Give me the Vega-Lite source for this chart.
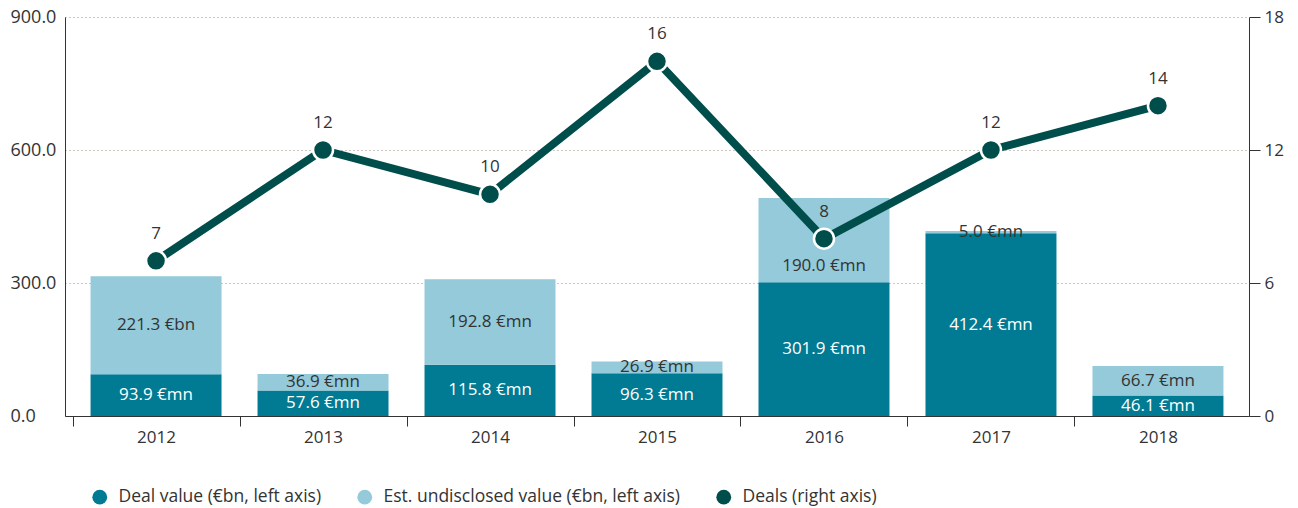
{
  "$schema": "https://vega.github.io/schema/vega-lite/v6.json",
  "width": 1184,
  "height": 399,
  "autosize": {"type": "none"},
  "padding": {"left": 65, "top": 17, "right": 49, "bottom": 92},
  "config": {"font": "Open Sans", "view": {"stroke": null}},
  "datasets": {
    "bars": [
      {"year": "2012", "series": "Deal value (€bn, left axis)", "value": 93.9, "label": "93.9 €mn"},
      {"year": "2012", "series": "Est. undisclosed value (€bn, left axis)", "value": 221.3, "label": "221.3 €bn"},
      {"year": "2013", "series": "Deal value (€bn, left axis)", "value": 57.6, "label": "57.6 €mn"},
      {"year": "2013", "series": "Est. undisclosed value (€bn, left axis)", "value": 36.9, "label": "36.9 €mn"},
      {"year": "2014", "series": "Deal value (€bn, left axis)", "value": 115.8, "label": "115.8 €mn"},
      {"year": "2014", "series": "Est. undisclosed value (€bn, left axis)", "value": 192.8, "label": "192.8 €mn"},
      {"year": "2015", "series": "Deal value (€bn, left axis)", "value": 96.3, "label": "96.3 €mn"},
      {"year": "2015", "series": "Est. undisclosed value (€bn, left axis)", "value": 26.9, "label": "26.9 €mn"},
      {"year": "2016", "series": "Deal value (€bn, left axis)", "value": 301.9, "label": "301.9 €mn"},
      {"year": "2016", "series": "Est. undisclosed value (€bn, left axis)", "value": 190.0, "label": "190.0 €mn"},
      {"year": "2017", "series": "Deal value (€bn, left axis)", "value": 412.4, "label": "412.4 €mn"},
      {"year": "2017", "series": "Est. undisclosed value (€bn, left axis)", "value": 5.0, "label": "5.0 €mn"},
      {"year": "2018", "series": "Deal value (€bn, left axis)", "value": 46.1, "label": "46.1 €mn"},
      {"year": "2018", "series": "Est. undisclosed value (€bn, left axis)", "value": 66.7, "label": "66.7 €mn"}
    ],
    "deals": [
      {"year": "2012", "deals": 7},
      {"year": "2013", "deals": 12},
      {"year": "2014", "deals": 10},
      {"year": "2015", "deals": 16},
      {"year": "2016", "deals": 8},
      {"year": "2017", "deals": 12},
      {"year": "2018", "deals": 14}
    ]
  },
  "encoding": {
    "x": {
      "field": "year",
      "type": "ordinal",
      "scale": {"paddingInner": 0.2156, "paddingOuter": 0.153},
      "axis": {
        "title": null,
        "labelAngle": 0,
        "labelFontSize": 17,
        "labelColor": "#333333",
        "domainColor": "#333333",
        "tickColor": "#333333",
        "tickSize": 10,
        "tickOffset": -83.5,
        "labelOffset": 83.5,
        "labelPadding": 3
      }
    }
  },
  "layer": [
    {
      "data": {"name": "bars"},
      "transform": [
        {"stack": "value", "groupby": ["year"], "sort": [{"field": "series", "order": "ascending"}], "as": ["v0", "v1"]},
        {"fold": ["v0", "v1"], "as": ["edge", "pos"]},
        {"aggregate": [{"op": "mean", "field": "pos", "as": "mid"}, {"op": "min", "field": "pos", "as": "lo"}, {"op": "max", "field": "pos", "as": "hi"}], "groupby": ["year", "series", "label", "value"]}
      ],
      "encoding": {
        "y": {
          "type": "quantitative",
          "scale": {"domain": [0, 900]},
          "axis": {
            "orient": "left",
            "title": null,
            "values": [0, 300, 600, 900],
            "format": ".1f",
            "labelFontSize": 18,
            "labelAlign": "left",
            "labelColor": "#333333",
            "domainColor": "#333333",
            "ticks": false,
            "labelPadding": 55,
            "grid": true,
            "gridDash": [1, 3],
            "gridColor": "#9c9184",
            "gridWidth": 1
          }
        }
      },
      "layer": [
        {
          "mark": {"type": "bar"},
          "encoding": {
            "y": {"field": "lo", "type": "quantitative", "scale": {"domain": [0, 900]}},
            "y2": {"field": "hi"},
            "color": {
              "field": "series",
              "type": "nominal",
              "scale": {
                "domain": ["Deal value (€bn, left axis)", "Est. undisclosed value (€bn, left axis)", "Deals (right axis)"],
                "range": ["#007b93", "#94cad9", "#004e4b"]
              },
              "legend": {
                "title": null,
                "orient": "none",
                "direction": "horizontal",
                "legendX": 26,
                "legendY": 471,
                "symbolType": "circle",
                "symbolSize": 220,
                "labelFontSize": 17.5,
                "labelLimit": 500,
                "labelColor": "#333333",
                "labelOffset": 10,
                "columnPadding": 34
              }
            }
          }
        },
        {
          "transform": [{"filter": "!(datum.year === '2016' && datum.series !== 'Deal value (€bn, left axis)')"}],
          "mark": {"type": "text", "fontSize": 17, "baseline": "middle"},
          "encoding": {
            "y": {"field": "mid", "type": "quantitative", "scale": {"domain": [0, 900]}},
            "text": {"field": "label"},
            "color": {
              "condition": {"test": "datum.series === 'Deal value (€bn, left axis)'", "value": "#ffffff"},
              "value": "#333333"
            }
          }
        },
        {
          "transform": [{"filter": "datum.year === '2016' && datum.series !== 'Deal value (€bn, left axis)'"}],
          "mark": {"type": "text", "fontSize": 17, "baseline": "middle", "dy": 26, "color": "#333333"},
          "encoding": {
            "y": {"field": "mid", "type": "quantitative", "scale": {"domain": [0, 900]}},
            "text": {"field": "label"}
          }
        }
      ]
    },
    {
      "data": {"name": "deals"},
      "encoding": {
        "y": {
          "field": "deals",
          "type": "quantitative",
          "scale": {"domain": [0, 18]},
          "axis": {
            "orient": "right",
            "title": null,
            "values": [0, 6, 12, 18],
            "labelFontSize": 17,
            "labelColor": "#333333",
            "domainColor": "#333333",
            "tickColor": "#333333",
            "tickSize": 11,
            "labelPadding": 4,
            "grid": false
          }
        }
      },
      "layer": [
        {"mark": {"type": "line", "color": "#004e4b", "strokeWidth": 8}, "encoding": {}},
        {"mark": {"type": "point", "filled": true, "fill": "#004e4b", "fillOpacity": 1, "stroke": "#ffffff", "strokeWidth": 2.5, "strokeOpacity": 1, "size": 400, "opacity": 1}, "encoding": {}},
        {"mark": {"type": "text", "fontSize": 17, "dy": -27, "color": "#333333"}, "encoding": {"text": {"field": "deals"}}}
      ]
    }
  ],
  "resolve": {"scale": {"y": "independent"}}
}
